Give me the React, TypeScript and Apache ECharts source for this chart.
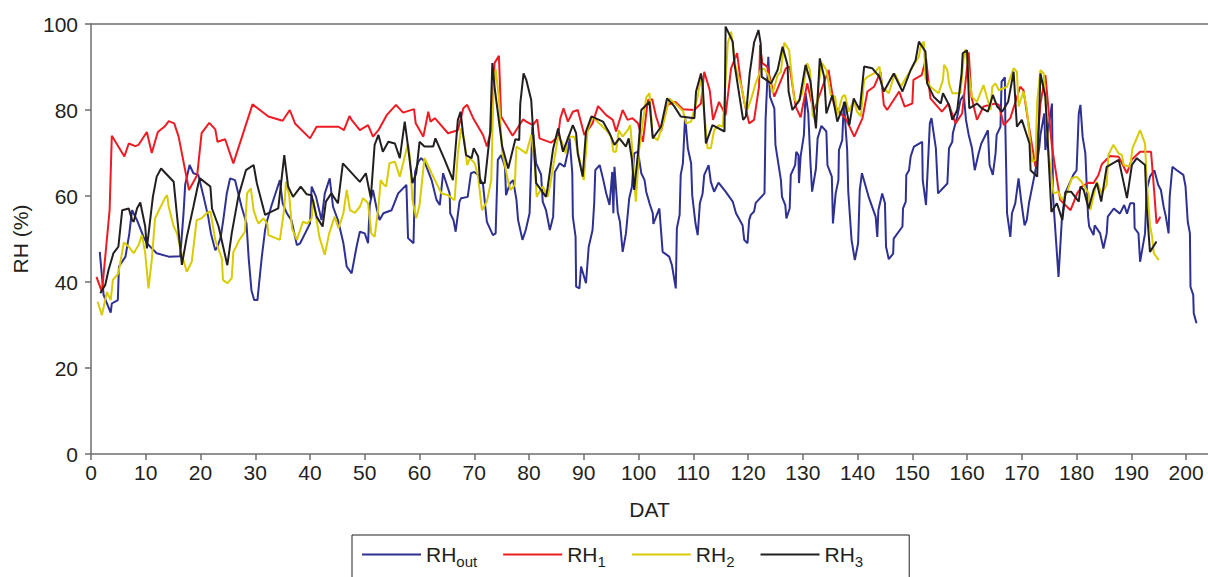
import React, { useEffect, useRef } from "react";
import * as echarts from "echarts";

const seriesNames = ["RHout", "RH1", "RH2", "RH3"];
const seriesColors = ["#2e3192", "#ed1c24", "#d8cb00", "#231f20"];

const rhOut: [number, number][] = [
  [1.6,47],[2.3,37],[2.8,35.4],[3.6,32.9],[3.8,35],[4.9,35.8],[5.1,43.6],[6.3,45.9],[7,51.3],[7.5,56.7],[8.4,54.4],[9.6,50.5],[10.2,49],[12,46.7],[14.2,45.9],[16.3,46],[16.9,56],[17.2,62.6],[18,67.2],[18.7,65.3],[19.6,64.9],[20.5,60.2],[21.4,55.2],[21.9,51.3],[22.7,47.4],[23.1,48.2],[23.7,50.5],[24.2,54.8],[24.8,60.6],[25.4,64.1],[26.3,63.7],[26.9,60.6],[27.5,57.5],[28.4,53.6],[28.8,45.5],[29.3,38.1],[29.8,35.8],[30.4,35.8],[30.7,39.7],[31.2,45.9],[31.8,52.1],[32.2,54.4],[33,57.9],[33.9,61.4],[34.5,63.7],[35,58.3],[35.8,55.9],[36.6,54.4],[37,52.1],[37.6,48.6],[38.2,49],[39.1,51.3],[40,53.6],[40.3,62.2],[41.1,59.8],[42.1,54.4],[42.7,60.6],[43.6,64.1],[44.2,57.5],[45.1,54.4],[46.1,49],[46.7,43.6],[47.6,42],[48.5,48.2],[49.1,51.7],[50,51.3],[50.6,49],[50.9,57.9],[51.5,61.4],[52.1,57.5],[52.7,54.4],[53.4,56],[54.9,56.7],[56.1,60.6],[57.6,62.6],[57.9,50.2],[58.9,49],[59.2,65.6],[59.8,68],[60.3,68.8],[60.9,68],[62.2,63.7],[63.1,59.1],[63.7,57.9],[64.3,65.3],[65.5,60.6],[65.6,56],[66.2,54.4],[66.6,51.7],[67.3,58.7],[67.6,59.5],[68.8,59.8],[69.4,65.3],[70,65.6],[70.7,64.9],[71.6,62.6],[72.3,54],[73.4,50.9],[73.9,51.3],[74.3,68.4],[74.9,69.5],[75.6,66.8],[75.8,60.2],[76.5,62.9],[77.1,63.7],[77.7,59.1],[78,54.4],[78.8,49.8],[79.4,52.1],[80.1,56],[80.6,76.1],[81.3,67.6],[82.2,65],[82.5,58.7],[83.1,56.7],[83.8,52.1],[84.4,55.2],[84.7,65.6],[85.6,67.6],[86.5,66.8],[87.1,70.3],[87.4,73.4],[87.9,65.3],[88,55.2],[88.5,50.5],[88.6,38.9],[89.2,38.5],[89.5,43.6],[90.4,39.7],[90.9,48.2],[91.6,52.1],[91.9,58.3],[92.1,66],[92.9,67.2],[93.5,64.1],[94.1,60.6],[94.7,57.9],[95.2,65.6],[95.4,56],[95.6,66.8],[96.2,56.3],[96.6,54],[97.1,47],[97.7,51.3],[98.3,59.5],[98.8,62.2],[99.2,69.9],[99.9,70.3],[100.5,65.3],[101.1,63.7],[101.4,61],[102,58.3],[102.6,56],[102.7,53.5],[103.8,57.1],[104.4,47],[105.6,45.9],[106.1,43.9],[106.8,38.5],[107,52.5],[107.5,55.6],[107.7,64.9],[108.1,67.6],[108.5,78.5],[109,71.1],[109.6,67.6],[109.8,60.2],[110.4,53.6],[110.8,50.9],[111.2,58.3],[111.7,60.6],[112,64.9],[112.8,67.2],[113.2,63.3],[113.8,61],[114.6,63.1],[115.9,61],[117.2,58.7],[117.8,56],[119,53.2],[119.3,49.8],[119.9,49],[120.2,54.4],[120.5,55.6],[121.1,56.4],[121.4,58.4],[123,60.6],[123.2,77.7],[123.7,92.4],[124,83.1],[124.8,80.4],[125,71.9],[126,63.7],[126.2,59.8],[126.8,57.9],[127,54.8],[127.6,57.1],[127.8,64.9],[128.6,67.2],[128.8,70.3],[129.2,69.5],[129.3,63],[129.6,69.2],[130.2,74.2],[130.5,83.9],[131,79.2],[131.4,67.6],[131.7,61],[132.4,66.4],[132.7,73.4],[133.4,76.3],[134.3,75],[134.5,67.2],[135.3,64.5],[135.5,53.6],[136,60.6],[136.5,63.7],[136.6,70.7],[137.2,73],[137.5,81.9],[138.1,70.7],[138.3,61],[138.9,49.8],[139.5,45.1],[140.1,49],[140.4,61.4],[140.8,65.3],[142.1,59.5],[143.3,55.2],[143.6,50.5],[143.8,56.7],[144.5,60.6],[145,58.3],[145.2,48.2],[145.7,45.3],[146.5,46.6],[146.6,50.1],[148.2,52.9],[148.3,57.1],[148.8,58.7],[148.9,64.9],[149.4,66],[149.7,69.2],[150.3,71.5],[151.8,72.6],[151.9,63.7],[152.5,57.9],[153.2,76.9],[153.5,78.1],[154.3,71.1],[154.7,60.6],[156.4,62.9],[156.7,71.1],[157.3,72.6],[157.4,74.6],[158.2,78.5],[158.8,82.3],[159.4,83.5],[159.8,77.7],[160.3,74.2],[160.9,71.1],[161.4,66],[162.1,69.9],[162.6,72.2],[163.8,75.3],[164.1,67.2],[164.7,64.9],[165.2,69.9],[165.4,74.2],[166.1,76.1],[166.3,86.6],[166.9,87.6],[167,75.3],[167.3,56],[167.9,50.5],[168.2,56],[168.8,58.3],[169.4,64.1],[169.9,58.7],[170.5,53.2],[170.9,54.4],[171.3,58.3],[172.2,64.1],[172.8,68],[173.2,71.5],[173.4,74.2],[174.1,79.2],[174.3,70.7],[175.5,81.5],[175.7,59.8],[176.7,41.2],[177.3,54.4],[177.9,60.6],[179.4,64.9],[180,66],[180.4,79.2],[180.7,81.2],[181.1,73.8],[181.6,69.9],[182.1,55.2],[182.3,52.9],[183.1,50.9],[183.3,53.2],[184.3,51.3],[184.9,47.8],[185.5,51.3],[185.7,55.2],[186.8,57.1],[187.9,55.9],[188.7,57.9],[189.2,55.9],[189.8,58.3],[190.5,58.3],[190.6,52.5],[191.3,51.3],[191.6,44.7],[192.5,51.3],[192.8,61.4],[193.4,64.5],[194.2,66],[194.9,62.6],[195.4,61.4],[195.9,57.5],[196.3,55.2],[196.8,51.3],[197,59.8],[197.5,66.8],[198.3,66],[199.5,64.9],[199.9,62.2],[200.3,54],[200.7,51.3],[200.8,38.9],[201.3,37],[201.4,32.7],[201.9,30.4]
];

const rh1: [number, number][] = [
  [1,41.2],[2,37.7],[3.4,56.7],[3.8,74],[6.1,69.2],[6.9,72.2],[8.1,71.6],[8.7,71.9],[10.2,74.9],[11.1,70],[12.2,74.9],[13.4,76.1],[14.2,77.4],[15.2,76.9],[16,73.8],[17.9,61.4],[19.4,64.9],[20.2,74.6],[21.6,77],[22.7,75.5],[23.1,72.6],[24.5,73.2],[26,67.6],[29.5,81.3],[32.4,78.5],[35,77.5],[36.3,80],[37.3,76.8],[40,73.4],[41.2,76.1],[45.2,76.1],[46.2,75.3],[47.2,78.6],[47.6,77.7],[49.1,75.3],[50.6,76.5],[51.5,73.8],[52.5,75.3],[54,78.8],[55.7,81.2],[57,79.4],[59,80.2],[59.3,76.9],[60.7,73.8],[61.6,79.6],[62,77.3],[62.8,78.1],[65.2,74.6],[67,75.3],[68,80.4],[68.7,81.2],[69.8,78.1],[71.6,74.2],[72.3,71.5],[73.1,75.3],[73.7,90.9],[74.5,92.6],[74.9,78.5],[77,74],[78.9,77.8],[79.5,77.3],[80.7,76.5],[81.5,77.8],[81.9,73.4],[84,72.4],[85.3,73.8],[85.7,78],[86.3,80.4],[87.1,77.3],[88,79.6],[88.9,80],[90.1,74.2],[91.6,76.9],[92.6,80.9],[94.1,78.8],[95.3,77.7],[95.9,75],[97.1,80],[98,77.7],[98.9,78.1],[99.9,76.9],[100.8,72.6],[101.7,82.3],[102.5,82.5],[103.2,78.5],[104.1,75],[105.3,81.2],[106.7,81.9],[108.1,80.2],[110.2,80],[111.4,81.5],[112,88.9],[113,84.6],[113.6,77.7],[114.7,81.9],[115.9,78.8],[116.9,89.7],[118,93.2],[118.7,86.2],[119.3,81.9],[120.2,76.9],[121.1,77.7],[122,85.4],[122.2,95.1],[122.6,90.9],[123.5,90.1],[124.8,83.1],[126.9,89.7],[127.6,90.1],[128.7,80.8],[129.6,78.3],[130.8,86.2],[132,79.6],[133.6,85.4],[134.7,89.3],[135.7,81.2],[136.9,79.2],[137.8,78.1],[139.4,73.8],[140.9,78.1],[141.8,84.3],[143,85.4],[144.2,88.9],[144.8,81.2],[145.4,80],[147.6,84.3],[148.6,80.8],[150,81.5],[150.2,87],[151.7,88.1],[152.5,92],[153.3,82.7],[155.4,79.6],[156.6,81.5],[157.9,76.9],[159.1,79.2],[160.3,93.4],[160.8,83.1],[161.8,77.7],[163,80.8],[165.2,81.5],[165.8,81.2],[166.7,76.5],[167.9,78.1],[169.7,85.4],[170.3,84.6],[171.3,76.1],[172.5,66.8],[173.4,81.5],[174.3,88.1],[175.5,71.5],[177,59.1],[178.9,56.7],[180.1,60.6],[181,62.2],[182.2,63.1],[183.1,63],[184,64.9],[184.6,67.4],[186.1,69.3],[187.7,69.1],[188.6,66.8],[189.2,65.3],[190.1,68.5],[191.6,70.3],[193.6,70.3],[194.2,60.6],[194.6,53.6],[195.3,55.2]
];

const rh2: [number, number][] = [
  [1.2,35.4],[2,32.3],[2.9,37.7],[3.6,35.8],[4,40.5],[5,42],[6,49.2],[6.9,48.2],[7.8,46.7],[8.7,48.6],[9.3,50.9],[9.9,46.7],[10.5,38.5],[11.1,45.1],[11.7,54.8],[12.3,56.4],[13.5,59.5],[13.9,60.2],[14.2,57.5],[15.1,52.9],[15.7,51.3],[16.6,46.3],[17.5,42.4],[18.4,44.7],[18.8,49],[19.3,54.4],[20.2,54.8],[21.2,56.1],[21.8,56.4],[22.7,49.8],[23.9,45.5],[24.1,40.5],[24.9,39.7],[25.7,40.9],[26,47],[26.5,48.2],[26.9,49.4],[28.1,51.7],[28.5,60.6],[29.2,61.8],[29.7,56.7],[30.3,54.4],[30.6,53.6],[31.5,54.8],[32.2,53.6],[32.4,50.9],[34.5,49.8],[35.3,57.1],[35.6,63.3],[36.2,60.2],[36.7,52.5],[37.6,49.8],[38.7,54],[39.5,53.6],[40.3,54.8],[40.6,59.1],[41.7,50.5],[42.7,46.3],[43.5,51.3],[44.5,55.2],[45.2,52.5],[46.1,56],[46.7,61.4],[47.3,56.7],[48.2,56.1],[49.1,57.5],[49.7,59.5],[50.6,58.3],[51.2,51.3],[51.8,50.5],[52.5,57.5],[52.9,63.7],[53.5,62.6],[53.9,62.2],[54.5,67.6],[55.5,68],[56.4,64.5],[57.3,69.2],[57.9,72.2],[58.3,68.4],[58.7,59.1],[59.4,54.8],[60,57.9],[60.9,68.8],[62.2,65.3],[64,60.6],[65.2,60.2],[66.4,59],[67,69.9],[67.6,75.7],[68.2,73],[68.7,67.2],[69.2,68.8],[70.1,67.6],[70.7,64.5],[71.4,56.7],[72.3,58.7],[73.1,63.7],[73.5,83.9],[73.9,89.5],[74.5,82.7],[75.1,70.3],[76.2,63.3],[76.6,61.4],[77.4,62.6],[77.7,71.5],[79.5,69.9],[80.4,74.2],[81,68.4],[81.4,59.8],[82.5,62.2],[83.4,59.8],[83.9,62.9],[85.3,73.8],[86,72.6],[86.7,69.9],[87.1,73.8],[88.3,73.8],[89.1,69.2],[90,63.7],[90.7,75.3],[91.6,78.5],[92.8,76.9],[94.1,75.3],[95,73.8],[95.4,70.3],[95.9,70.3],[96.4,75.3],[97.1,73.8],[98,75.3],[98.5,76.5],[98.9,69.9],[99.5,58.7],[100.1,70.7],[101.4,82.9],[102,83.9],[102.6,73.8],[103.5,73],[104.7,77.7],[105.6,82.7],[106.7,81.5],[108.1,79.8],[108.7,76.9],[109.6,77.3],[110.8,83.1],[111.4,87.7],[112,79.2],[112.6,71.1],[113.2,71.1],[113.8,75.3],[114.7,76.5],[115.4,76.1],[116.3,95.5],[116.9,98.2],[117.7,90.1],[118.7,85.8],[119.1,83.5],[119.7,79.6],[120.5,82.3],[121.4,86.2],[122.3,89.3],[122.9,89.7],[123.7,88.1],[124.5,83.9],[125.4,88.1],[126,88.9],[126.6,95.7],[127.5,93.9],[127.8,90.1],[128.4,82.7],[129,81.5],[129.9,83.9],[130.8,90.9],[131.3,89.3],[131.8,78.8],[132.4,77.3],[132.9,86.2],[133.5,90.9],[134.3,89.3],[135.1,83.5],[135.9,83.1],[136.3,78.8],[137.2,83.1],[137.7,83.5],[138.4,79.6],[139.3,82.3],[139.9,79.6],[140.6,78.5],[141.2,87],[141.8,87.7],[143,88.5],[144,90.1],[144.5,85.4],[145.7,83.9],[146.8,88.5],[147.9,85.4],[148.8,87.4],[149.7,89.3],[151.2,92.4],[151.5,94.7],[152.1,95.9],[152.4,87.4],[153.3,85.4],[154.8,83.9],[155.6,87],[155.8,90.5],[156.4,89.3],[156.7,86.2],[157.3,83.9],[158.8,83.9],[159.4,92.4],[159.7,94.1],[160.4,87.7],[160.9,83.1],[161.8,81.9],[163,85.8],[163.6,83.1],[164.3,80],[164.6,85.4],[165.2,86.2],[165.8,84.6],[167.3,85.4],[168.5,89.7],[169.1,88.9],[169.4,80.8],[170.3,84.3],[170.9,80.4],[171.9,68],[172.5,68.4],[172.8,81.9],[173.4,89.3],[174,88.5],[174.9,69.9],[175.8,60.6],[176.7,61],[177.3,59.1],[178.2,60.6],[179.1,64.1],[180,64.5],[180.9,63.3],[182.2,60.6],[182.5,56.7],[183.7,63.3],[184.6,60.6],[185.5,62.6],[185.8,69.5],[186.7,71.9],[187.7,69.9],[188.3,69.5],[188.6,67.2],[189.8,66.8],[190.2,71.1],[191.6,75.3],[192.5,72.2],[192.8,63.7],[193.4,53.2],[193.8,50.5],[194.1,46.7],[195,45.1]
];

const rh3: [number, number][] = [
  [1.7,37.4],[2.6,39.3],[3.2,42.8],[4.1,46.7],[5,48.2],[5.7,56.7],[6.9,57.1],[7.5,54.4],[7.8,54],[8.4,57.1],[9,58.5],[9.9,52.9],[10.2,47.8],[11.3,59.8],[12,64.5],[12.8,66.4],[15.1,63.3],[16.6,44],[17.5,50.5],[18.7,57.5],[19.6,62.9],[19.9,64.1],[21.8,62.2],[22.1,57.1],[23.3,52.9],[24.9,43.9],[25.7,51.3],[26.9,59.8],[28.3,66],[29.7,67.2],[30.3,62.9],[31.8,55.6],[32.4,56],[34.2,57.1],[35.3,69.5],[36,62.2],[36.9,59.8],[38.3,62.2],[39.4,60.4],[40.3,60.2],[41.2,55.2],[42.3,52.9],[42.9,58.7],[43.9,60.6],[45.1,58.3],[46,67.6],[49.1,63.3],[50.2,65.3],[51.1,59.5],[51.8,71.9],[52.5,74.2],[53.3,70.3],[54.3,72.6],[55.5,72.2],[56.4,68.8],[57.3,77.3],[57.9,71.5],[58.7,63],[59.4,65.3],[60,72.6],[60.9,71.5],[62.5,71.5],[62.9,73.4],[64.6,68.4],[66.1,63.7],[67,77.7],[67.5,79.6],[68,73.8],[68.5,69.5],[69.5,68.8],[69.9,71.1],[70.7,69.2],[71.1,63],[71.9,63],[72.9,75],[73.3,90.9],[73.7,85.4],[75.1,71.5],[76.2,66.4],[77.5,73.2],[78.2,73],[78.4,81.5],[79,88.5],[79.5,87],[80.4,82.3],[81.3,63],[83.1,59.8],[83.4,62],[84.4,71],[85.3,75.7],[86.2,70.3],[88,76.5],[88.6,74.6],[88.9,69.9],[89.8,64.5],[90.4,75],[91.4,78.5],[93.5,77.3],[94.7,74.6],[95.6,71.9],[96.5,73.4],[97.7,71.5],[98.2,73.4],[98.8,68.4],[99.2,61.4],[99.9,69.9],[100.5,80],[102,81.9],[102.6,73.4],[104.1,76.1],[105.2,82.7],[106.5,80.9],[107.7,78.5],[110.2,78.1],[110.5,84.3],[111.4,88.5],[111.7,86.2],[112.3,72.2],[113.5,76.5],[115.7,75],[115.9,99.4],[117.2,95.9],[117.5,90.9],[119.1,77.7],[119.6,78.5],[120.3,88.5],[121.1,95.7],[121.9,98.6],[122.3,95.5],[122.5,87.7],[124.2,86.2],[125.4,89.3],[126.3,94.7],[127.2,90.5],[127.4,84.3],[128.1,80],[129.4,82.3],[130.5,90.5],[131.4,86.6],[132.4,75.7],[133.1,92],[133.9,87.7],[134.3,79.2],[135.4,83.5],[136.3,77.3],[137.7,81.9],[138.5,76.5],[139.3,82.7],[139.9,81.2],[140.4,80],[141.2,90.1],[142.7,89.7],[144,87.7],[144.8,84.3],[146.6,88.5],[148.2,84.3],[149.7,89.3],[150.6,91.6],[151.2,95.9],[152.4,93.6],[152.7,86.2],[153.9,83.1],[155.2,81.5],[155.6,83.9],[156.7,81.2],[157.3,77.7],[158.2,80],[159,88.5],[159.2,93.2],[160,93.9],[160.4,80.4],[161.8,81.5],[162.7,80.4],[163.8,79.6],[164.7,83.5],[165.5,80.8],[166.4,79.6],[167.5,81.9],[168.5,88.9],[169.1,76.1],[170,77.7],[171.4,72.2],[171.6,66],[172.8,64.5],[173.4,88.5],[174.3,83.1],[175.4,56.3],[176.4,58.3],[177.4,54.4],[178,61],[179,61],[180.4,58.7],[180.7,62.2],[181.3,61.4],[182.2,57.1],[183.1,61.4],[183.7,63],[184.5,58.7],[185.5,66.8],[187.7,68.4],[189.2,59.5],[190.1,67.2],[191,68.8],[192.5,67.2],[192.8,57.5],[193.4,47],[194.6,49.4]
];

const seriesData = [rhOut, rh1, rh2, rh3];
const xTitle = "DAT";
const yTitle = "RH (%)";

const FONT = "'Liberation Sans', Arial, Helvetica, sans-serif";
const TEXT = "#231f20";
const AXIS = "#6d6e71";
const FS = 21;

export default function App() {
  const ref = useRef<HTMLDivElement>(null);
  useEffect(() => {
    document.body.style.margin = "0";
    const chart = echarts.init(ref.current!, null, { renderer: "svg" });
    chart.setOption({
      animation: false,
      textStyle: { fontFamily: FONT, color: TEXT },
      grid: { left: 91, right: 0, top: 24, bottom: 123, containLabel: false },
      xAxis: [
        {
          type: "value",
          min: 0,
          max: 204,
          interval: 10,
          name: xTitle,
          nameLocation: "middle",
          nameGap: 45,
          nameTextStyle: { fontSize: FS, color: TEXT, fontFamily: FONT },
          axisLine: { show: true, lineStyle: { color: AXIS, width: 1.5 } },
          axisTick: { show: true, inside: false, length: 6, lineStyle: { color: AXIS, width: 1.5 } },
          axisLabel: { fontSize: FS, color: TEXT, fontFamily: FONT, margin: 8, showMaxLabel: false },
          splitLine: { show: false },
        },
        {
          type: "value",
          position: "top",
          min: 0,
          max: 204,
          axisLine: { show: true, onZero: false, lineStyle: { color: AXIS, width: 1.5 } },
          axisTick: { show: false },
          axisLabel: { show: false },
          splitLine: { show: false },
        },
      ],
      yAxis: {
        type: "value",
        min: 0,
        max: 100,
        interval: 20,
        name: yTitle,
        nameLocation: "middle",
        nameGap: 60,
        nameTextStyle: { fontSize: FS, color: TEXT, fontFamily: FONT },
        axisLine: { show: true, lineStyle: { color: AXIS, width: 1.5 } },
        axisTick: { show: true, inside: false, length: 6, lineStyle: { color: AXIS, width: 1.5 } },
        axisLabel: { fontSize: FS, color: TEXT, fontFamily: FONT, margin: 13 },
        splitLine: { show: false },
      },
      legend: {
        left: 352,
        top: 535,
        orient: "horizontal",
        icon: "rect",
        itemWidth: 59,
        itemHeight: 2,
        itemGap: 26,
        padding: [9, 46, 30, 10],
        borderColor: TEXT,
        borderWidth: 1,
        data: seriesNames,
        formatter: (name: string) =>
          name === "RHout" ? "{m|RH}{s|out}" : "{m|RH}{s|" + name.slice(2) + "}",
        textStyle: {
          color: TEXT,
          fontFamily: FONT,
          rich: {
            m: { fontSize: FS, color: TEXT, fontFamily: FONT },
            s: { fontSize: 15, color: TEXT, fontFamily: FONT, padding: [14, 0, 0, 0] },
          },
        },
      },
      series: seriesNames.map((name, i) => ({
        name,
        type: "line",
        data: seriesData[i],
        xAxisIndex: 0,
        showSymbol: false,
        symbol: "none",
        lineStyle: { color: seriesColors[i], width: 2 },
        itemStyle: { color: seriesColors[i] },
        emphasis: { disabled: true },
      })),
    });
    return () => chart.dispose();
  }, []);
  return <div ref={ref} style={{ width: 1208, height: 577 }} />;
}
